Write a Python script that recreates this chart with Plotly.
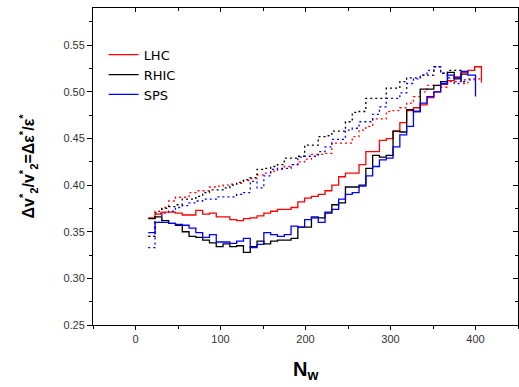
import plotly.graph_objects as go

# Bin left edges of N_w (last value is the right edge of the last bin)
n_edges = [15, 23, 31, 39, 47, 55, 63, 71, 79, 87, 95, 103, 111, 119, 127, 135, 143,
           151, 159, 167, 175, 183, 191, 199, 207, 215, 223, 231, 239, 247, 255, 263,
           271, 279, 287, 295, 303, 311, 319, 327, 335, 343, 351, 359, 367, 375, 383,
           391, 399, 407]

lhc_solid = [0.365, 0.369, 0.371, 0.371, 0.370, 0.368, 0.368, 0.373, 0.369, 0.370,
             0.366, 0.366, 0.363, 0.362, 0.364, 0.365, 0.367, 0.370, 0.372, 0.374,
             0.374, 0.376, 0.382, 0.386, 0.388, 0.390, 0.394, 0.400, 0.409, 0.413,
             0.413, 0.422, 0.436, 0.436, 0.448, 0.450, 0.458, 0.467, 0.480, 0.483,
             0.486, 0.494, 0.500, 0.508, 0.512, 0.516, 0.521, 0.523, 0.527]
lhc_solid_end = (407, 0.512)

rhic_solid = [0.364, 0.366, 0.362, 0.359, 0.357, 0.350, 0.345, 0.344, 0.341, 0.338,
              0.334, 0.337, 0.334, 0.335, 0.328, 0.334, 0.340, 0.337, 0.340, 0.341,
              0.341, 0.343, 0.355, 0.355, 0.365, 0.365, 0.370, 0.379, 0.381, 0.398,
              0.398, 0.400, 0.418, 0.432, 0.430, 0.432, 0.458, 0.457, 0.481, 0.479,
              0.503, 0.503, 0.507, 0.511, 0.521, 0.514, 0.519]
rhic_solid_end = (391, 0.519)

sps_solid = [0.349, 0.360, 0.360, 0.359, 0.358, 0.357, 0.354, 0.349, 0.344, 0.347,
             0.339, 0.339, 0.3375, 0.340, 0.343, 0.333, 0.3365, 0.349, 0.347, 0.345,
             0.347, 0.356, 0.355, 0.363, 0.366, 0.360, 0.371, 0.374, 0.385, 0.390,
             0.392, 0.399, 0.410, 0.420, 0.427, 0.429, 0.441, 0.454, 0.463, 0.479,
             0.488, 0.495, 0.500, 0.509, 0.518, 0.515, 0.522, 0.518]
sps_solid_end = (400, 0.495)

lhc_dot = [0.345, 0.372, 0.376, 0.383, 0.387, 0.387, 0.392, 0.394, 0.394, 0.398,
           0.399, 0.400, 0.401, 0.402, 0.405, 0.407, 0.411, 0.413, 0.415, 0.417,
           0.420, 0.422, 0.425, 0.428, 0.433, 0.433, 0.434, 0.445, 0.445, 0.445,
           0.452, 0.459, 0.463, 0.471, 0.471, 0.479, 0.480, 0.483, 0.488, 0.495,
           0.500, 0.507, 0.507, 0.505, 0.511, 0.511, 0.509, 0.514, 0.514]
lhc_dot_end = (407, 0.509)

rhic_dot = [0.345, 0.370, 0.375, 0.377, 0.379, 0.385, 0.385, 0.388, 0.392, 0.395,
            0.395, 0.397, 0.400, 0.403, 0.406, 0.408, 0.417, 0.418, 0.420, 0.422,
            0.429, 0.429, 0.431, 0.443, 0.443, 0.452, 0.453, 0.458, 0.458, 0.468,
            0.478, 0.479, 0.493, 0.493, 0.493, 0.504, 0.504, 0.511, 0.515, 0.515,
            0.518, 0.518, 0.527, 0.520, 0.523, 0.523, 0.511]
rhic_dot_end = (391, 0.511)

sps_dot = [0.333, 0.360, 0.370, 0.372, 0.376, 0.378, 0.381, 0.383, 0.385, 0.385,
           0.3875, 0.3875, 0.3875, 0.390, 0.392, 0.404, 0.397, 0.410, 0.417, 0.418,
           0.418, 0.422, 0.430, 0.431, 0.431, 0.436, 0.441, 0.449, 0.449, 0.459,
           0.461, 0.468, 0.468, 0.476, 0.484, 0.493, 0.493, 0.499, 0.509, 0.514,
           0.518, 0.523, 0.527, 0.520, 0.515, 0.509, 0.513, 0.513]
sps_dot_end = (399, 0.513)

x_ticks = [0, 100, 200, 300, 400]
y_ticks = [0.25, 0.30, 0.35, 0.40, 0.45, 0.50, 0.55]

RED, BLACK, BLUE = "#ff0000", "#000000", "#0000ff"


def steps(vals, end):
    xs = n_edges[:len(vals)] + [end[0]]
    ys = vals + [end[1]]
    return xs, ys


fig = go.Figure()

for vals, end, col in [(lhc_dot, lhc_dot_end, RED), (rhic_dot, rhic_dot_end, BLACK),
                       (sps_dot, sps_dot_end, BLUE)]:
    xs, ys = steps(vals, end)
    fig.add_trace(go.Scatter(x=xs, y=ys, mode="lines", line_shape="hv",
                             line=dict(color=col, width=1.3, dash="2px,3px"),
                             showlegend=False, hoverinfo="skip"))

for name, vals, end, col in [("LHC", lhc_solid, lhc_solid_end, RED),
                             ("RHIC", rhic_solid, rhic_solid_end, BLACK),
                             ("SPS", sps_solid, sps_solid_end, BLUE)]:
    xs, ys = steps(vals, end)
    fig.add_trace(go.Scatter(x=xs, y=ys, mode="lines", line_shape="hv", name=name,
                             line=dict(color=col, width=1.3)))

# dummy trace for mirrored (top/right) axes with inward ticks
fig.add_trace(go.Scatter(x=[None], y=[None], xaxis="x2", yaxis="y2",
                         showlegend=False, hoverinfo="skip"))

tickfont = dict(family="Liberation Sans, Arial, sans-serif", size=11, color="#333333")

fig.update_layout(
    width=519, height=387,
    margin=dict(l=93, r=1, t=8, b=62),
    paper_bgcolor="white", plot_bgcolor="white",
    xaxis=dict(range=[-50, 450], tickvals=x_ticks, ticks="outside", ticklen=4,
               tickcolor="black", showline=True, linecolor="black", linewidth=1,
               showgrid=False, zeroline=False, tickfont=tickfont,
               minor=dict(dtick=50, tick0=0, ticks="outside", ticklen=3,
                          tickcolor="black", showgrid=False)),
    yaxis=dict(range=[0.25, 0.59], tickvals=y_ticks, tickformat=".2f", ticks="outside",
               ticklen=5, tickcolor="black", showline=True, linecolor="black",
               linewidth=1, showgrid=False, zeroline=False, tickfont=tickfont,
               minor=dict(dtick=0.025, tick0=0.25, ticks="outside", ticklen=3,
                          tickcolor="black", showgrid=False)),
    xaxis2=dict(overlaying="x", side="top", anchor="y", range=[-50, 450],
                tickvals=x_ticks, ticks="inside", ticklen=4, tickcolor="black",
                showticklabels=False, showline=True, linecolor="black", linewidth=1,
                showgrid=False, zeroline=False,
                minor=dict(dtick=50, tick0=0, ticks="inside", ticklen=3,
                           tickcolor="black", showgrid=False)),
    yaxis2=dict(overlaying="y", side="right", anchor="x", range=[0.25, 0.59],
                tickvals=y_ticks, ticks="inside", ticklen=5, tickcolor="black",
                showticklabels=False, showline=True, linecolor="black", linewidth=1,
                showgrid=False, zeroline=False,
                minor=dict(dtick=0.025, tick0=0.25, ticks="inside", ticklen=3,
                           tickcolor="black", showgrid=False)),
    legend=dict(x=0.025, y=0.9, xanchor="left", yanchor="top",
                bgcolor="rgba(0,0,0,0)", borderwidth=0, tracegroupgap=0,
                font=dict(family="DejaVu Sans, sans-serif", size=13, color="black")),
    showlegend=True,
)

fig.add_annotation(
    text="<b>Δv<sup>*</sup><sub>2</sub>/v<sup>*</sup><sub>2</sub>=Δε<sup>*</sup>/ε<sup>*</sup></b>",
    xref="paper", yref="paper", x=0, y=0.5, xshift=-65, textangle=-90,
    showarrow=False, xanchor="center", yanchor="middle",
    font=dict(family="Liberation Sans, Arial, sans-serif", size=16, color="black"))

fig.add_annotation(
    text="<b>N<sub>w</sub></b>",
    xref="paper", yref="paper", x=0.5, y=0, yshift=-45, showarrow=False,
    xanchor="center", yanchor="middle",
    font=dict(family="Liberation Sans, Arial, sans-serif", size=20, color="black"))

fig.write_html("out.html", config={"displayModeBar": False},
               post_script="document.body.style.margin='0';document.body.style.overflow='hidden';")
